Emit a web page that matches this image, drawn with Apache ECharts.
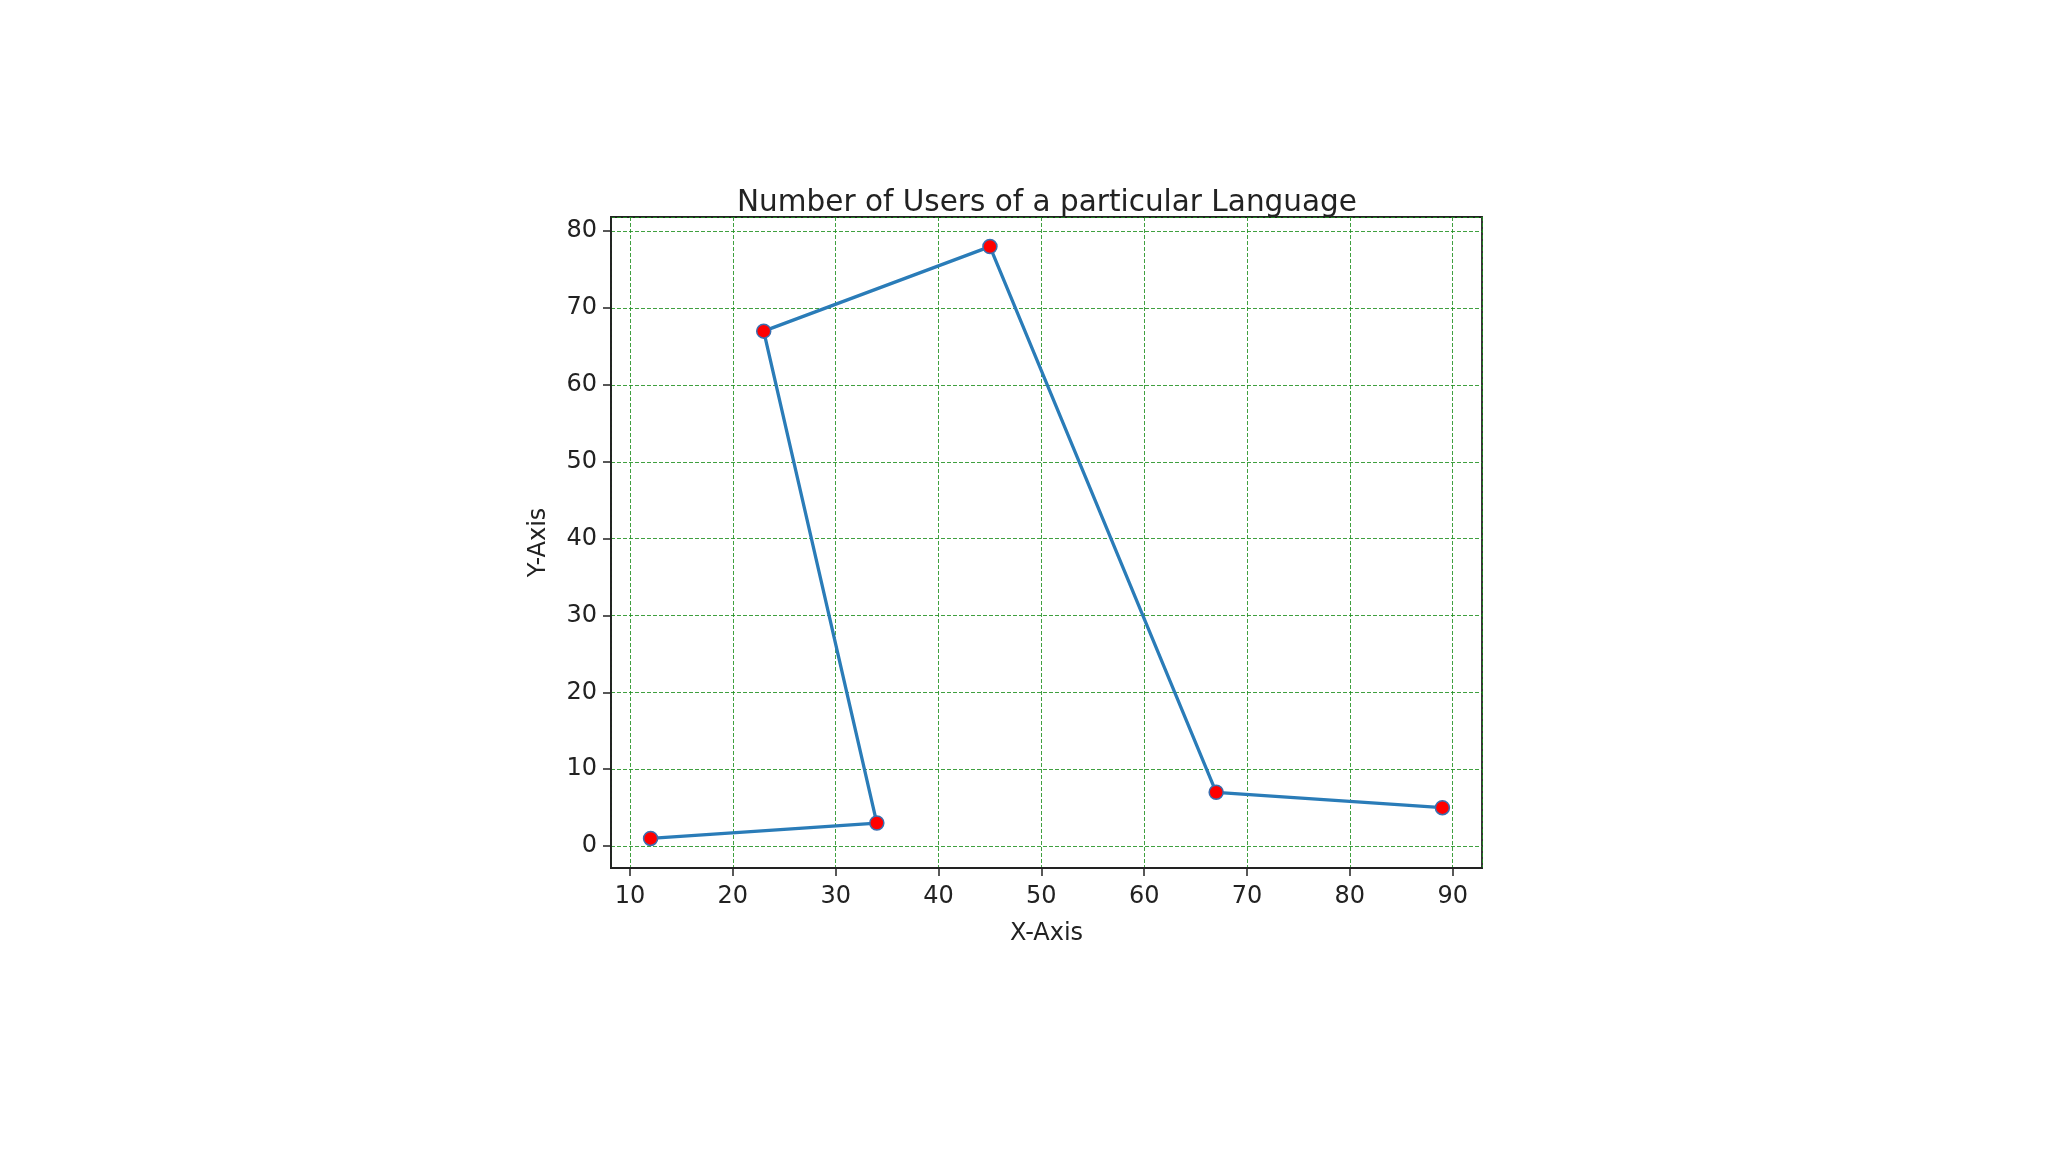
<!DOCTYPE html>
<html>
<head>
<meta charset="utf-8">
<script src="https://cdn.jsdelivr.net/npm/echarts@6/dist/echarts.min.js"></script>
<style>
  html, body { margin: 0; padding: 0; background: #fff; }
  #chart { width: 2048px; height: 1152px; }
</style>
</head>
<body>
<div id="chart"></div>
<script>
  // 数据（按原始顺序连线）
  const xValues = [12, 34, 23, 45, 67, 89];
  const yValues = [1, 3, 67, 78, 7, 5];
  const titleText = "Number of Users of a particular Language";
  const xName = "X-Axis";
  const yName = "Y-Axis";

  // matplotlib 默认 5% 边距
  const pad = (arr) => {
    const lo = Math.min(...arr), hi = Math.max(...arr);
    const m = (hi - lo) * 0.05;
    return [lo - m, hi + m];
  };
  const [xMin, xMax] = pad(xValues);
  const [yMin, yMax] = pad(yValues);

  const chart = echarts.init(document.getElementById("chart"));
  const font = "DejaVu Sans";

  const gridLine = {
    show: true,
    lineStyle: { color: "#1f8f1f", width: 1, type: [4, 2], opacity: 0.85 }
  };

  const option = {
    animation: false,
    backgroundColor: "#fff",
    title: {
      text: titleText,
      left: 1042,
      top: 183,
      textAlign: "center",
      textStyle: { fontFamily: font, fontSize: 29.5, fontWeight: "normal", color: "#222" }
    },
    grid: {
      left: 611,
      right: 566,
      top: 217,
      bottom: 284,
      show: true,
      borderColor: "#222",
      borderWidth: 1.8,
      containLabel: false
    },
    xAxis: {
      type: "value",
      min: xMin,
      max: xMax,
      splitNumber: 8,
      name: xName,
      nameLocation: "middle",
      nameGap: 54,
      nameTextStyle: { fontFamily: font, fontSize: 24, color: "#222" },
      axisLine: { show: true, onZero: false, lineStyle: { color: "#222", width: 1.8 } },
      axisTick: { show: true, inside: false, length: 8, lineStyle: { color: "#222", width: 1.5 } },
      axisLabel: { margin: 17, fontFamily: font, fontSize: 24, color: "#222", showMinLabel: false, showMaxLabel: false },
      splitLine: gridLine
    },
    yAxis: {
      type: "value",
      min: yMin,
      max: yMax,
      splitNumber: 8,
      name: yName,
      nameLocation: "middle",
      nameGap: 60,
      nameTextStyle: { fontFamily: font, fontSize: 24, color: "#222" },
      axisLine: { show: true, onZero: false, lineStyle: { color: "#222", width: 1.8 } },
      axisTick: { show: true, inside: false, length: 8, lineStyle: { color: "#222", width: 1.5 } },
      axisLabel: { margin: 14, fontFamily: font, fontSize: 24, color: "#222", showMinLabel: false, showMaxLabel: false, padding: [9, 0, 0, 0] },
      splitLine: gridLine
    },
    series: [
      {
        type: "line",
        data: xValues.map((x, i) => [x, yValues[i]]),
        symbol: "circle",
        symbolSize: 14,
        lineStyle: { color: "#2a7cb8", width: 3.3 },
        itemStyle: { color: "red", borderColor: "#3a6fb0", borderWidth: 1.5 },
        z: 5
      }
    ]
  };

  chart.setOption(option);
</script>
</body>
</html>
